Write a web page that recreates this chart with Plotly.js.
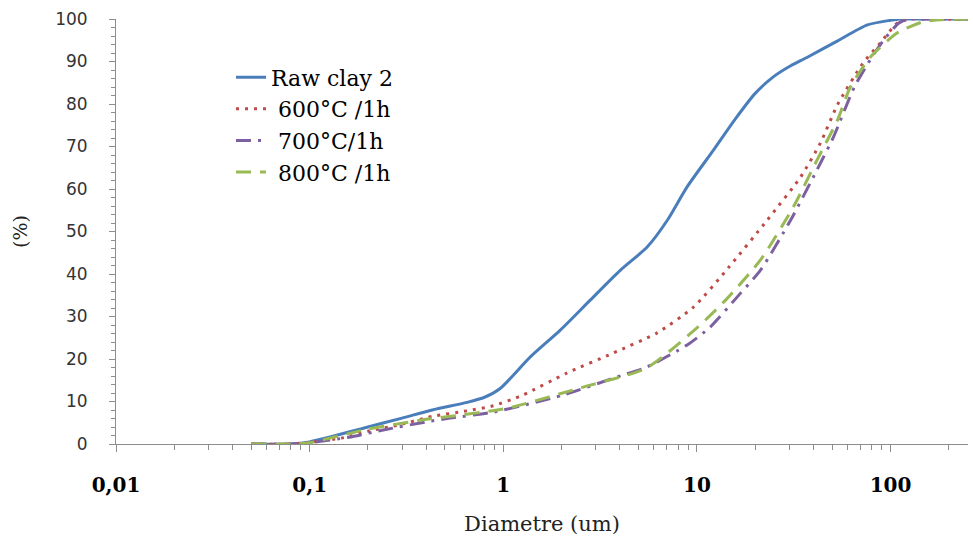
<!DOCTYPE html>
<html>
<head>
<meta charset="utf-8">
<script src="https://cdn.plot.ly/plotly-3.0.1.min.js"></script>
<style>html,body{margin:0;padding:0;background:#fff;}#chart{width:973px;height:543px;}</style>
</head>
<body>
<div id="chart"></div>
<script>
// Tick labels
const xTickVals = [0.01, 0.1, 1, 10, 100];
const xTickText = ['0,01', '0,1', '1', '10', '100'];

// Series names
const seriesNames = ['Raw clay 2', '\u00a0600°C /1h', '\u00a0700°C/1h', '\u00a0800°C /1h'];

// Raw clay 2
const rawX = [0.05, 0.08, 0.1, 0.2, 0.3, 0.43, 0.65, 0.8, 0.96, 1.38, 1.97, 2.82, 4.03, 5.55, 7.05, 8.9, 12.2, 15.8, 20, 25, 30.5, 37.2, 53, 76, 100, 112, 150, 250];
const rawY = [0, 0, 0.5, 4, 6.1, 8, 9.8, 11, 13, 20.5, 26.8, 33.9, 40.9, 46.4, 52.7, 60.5, 69.2, 76.5, 82.5, 86.5, 89, 91, 94.8, 98.6, 99.7, 100, 100, 100];

// 600°C /1h
const c600X = [0.05, 0.08, 0.1, 0.15, 0.2, 0.29, 0.43, 0.65, 0.89, 1.26, 2.13, 3.7, 6.2, 9.6, 14.5, 23.1, 34.3, 43.4, 53.2, 72, 88.7, 108, 125, 150, 250];
const c600Y = [0, 0, 0.4, 1.5, 3, 4.5, 6.5, 7.8, 9, 11.5, 16.7, 21.4, 26.1, 32.2, 41.4, 52.7, 62.8, 70.8, 79.8, 89.6, 94.4, 99, 100, 100, 100];

// 700°C/1h
const c700X = [0.05, 0.08, 0.1, 0.16, 0.24, 0.4, 0.53, 0.89, 2.03, 3.7, 5.5, 8.9, 11.7, 16.8, 21.3, 30.5, 41.7, 50.7, 65, 80, 92, 110, 122, 150, 250];
const c700Y = [0, 0, 0.3, 1.6, 3.3, 5.2, 6.1, 7.5, 11.5, 15.5, 18.1, 23.3, 27.5, 35.5, 40.9, 52.7, 64.5, 72.2, 84, 91, 95, 99, 100, 100, 100];

// 800°C /1h
const c800X = [0.05, 0.08, 0.1, 0.2, 0.4, 0.6, 0.9, 1.12, 2.5, 5.5, 10.1, 14.3, 21.3, 31.5, 41.7, 53.2, 62, 78.6, 108, 146, 178, 250];
const c800Y = [0, 0, 0.3, 3.5, 5.8, 6.8, 7.9, 8.7, 13.2, 17.9, 27.5, 34.2, 43.3, 55.8, 66.8, 76.2, 84, 91, 96.7, 99.3, 99.8, 100];

const serif = 'DejaVu Serif, Liberation Serif, serif';

const traces = [
  {x: rawX, y: rawY, name: seriesNames[0], mode: 'lines',
   line: {color: '#4A7EBB', width: 3, shape: 'spline', smoothing: 0.7}},
  {x: c600X, y: c600Y, name: seriesNames[1], mode: 'lines',
   line: {color: '#BE4B48', width: 3, dash: '3px,6px', shape: 'spline', smoothing: 0.6}},
  {x: c700X, y: c700Y, name: seriesNames[2], mode: 'lines',
   line: {color: '#7D60A0', width: 3, dash: '15px,7px,3px,7px', shape: 'spline', smoothing: 0.6}},
  {x: c800X, y: c800Y, name: seriesNames[3], mode: 'lines',
   line: {color: '#98B954', width: 3, dash: '15px,9px', shape: 'spline', smoothing: 0.6}}
];

const layout = {
  width: 973, height: 543,
  margin: {l: 116, r: 5, t: 19, b: 99},
  paper_bgcolor: '#ffffff', plot_bgcolor: '#ffffff',
  showlegend: true,
  legend: {
    x: 0.135, y: 0.912, xanchor: 'left', yanchor: 'top',
    bgcolor: 'rgba(0,0,0,0)',
    font: {family: serif, size: 22, color: '#000'},
    tracegroupgap: 0
  },
  xaxis: {
    type: 'log', range: [-2, 2.4],
    tickmode: 'array', tickvals: xTickVals, ticktext: xTickText,
    showgrid: false, zeroline: false,
    showline: true, linecolor: '#8c8c8c', linewidth: 1,
    ticks: 'outside', ticklen: 7, tickcolor: '#8c8c8c',
    ticklabelstandoff: 16,
    tickfont: {family: serif, size: 20, color: '#000', weight: 'bold'},
    minor: {ticks: 'outside', ticklen: 5, tickcolor: '#8c8c8c', dtick: 'D1', showgrid: false},
    title: {text: 'Diametre (um)', standoff: 20,
            font: {family: serif, size: 21, color: '#222'}}
  },
  yaxis: {
    range: [0, 100], dtick: 10,
    showgrid: false, zeroline: false,
    showline: true, linecolor: '#8c8c8c', linewidth: 1,
    ticks: 'outside', ticklen: 6, tickcolor: '#8c8c8c',
    ticklabelstandoff: 18,
    tickfont: {family: 'DejaVu Sans, Verdana, sans-serif', size: 17, color: '#333'},
    minor: {ticks: 'outside', ticklen: 4, tickcolor: '#8c8c8c', dtick: 2, showgrid: false},
    title: {text: '(%)', standoff: 22,
            font: {family: serif, size: 19, color: '#222'}}
  }
};

Plotly.newPlot('chart', traces, layout, {displayModeBar: false, staticPlot: true});
</script>
</body>
</html>
